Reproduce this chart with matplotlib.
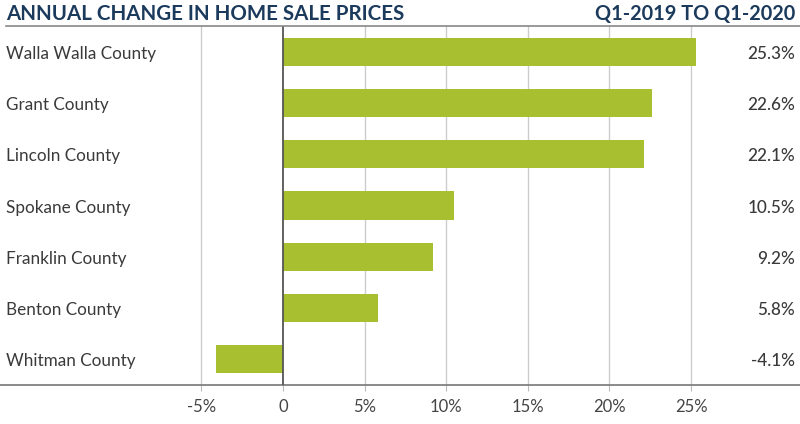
import matplotlib.pyplot as plt

counties = ['Walla Walla County', 'Grant County', 'Lincoln County', 'Spokane County',
            'Franklin County', 'Benton County', 'Whitman County']
changes = [25.3, 22.6, 22.1, 10.5, 9.2, 5.8, -4.1]
ticks = [-5, 0, 5, 10, 15, 20, 25]
tick_labels = ['-5%', '0', '5%', '10%', '15%', '20%', '25%']

plt.rcParams['font.family'] = ['Lato', 'DejaVu Sans']

fig = plt.figure(figsize=(8, 4.24), dpi=100)
ax = fig.add_axes([0, 39 / 424, 1, 359 / 424])

ax.set_xlim(-283 / 16.32, 517 / 16.32)
ax.set_ylim(len(counties) - 0.5, -0.5)

for t in ticks:
    if t == 0:
        ax.axvline(t, color='#555555', lw=1.3, zorder=3)
    else:
        ax.axvline(t, color='#cccccc', lw=1, zorder=0)

ypos = list(range(len(counties)))
ax.barh(ypos, changes, height=0.55, color='#a8c02f', zorder=2)

for y, name, v in zip(ypos, counties, changes):
    ax.text(6 / 800, y + 0.04, name, transform=ax.get_yaxis_transform(), ha='left', va='center',
            fontsize=12.3, color='#3a3a3a')
    ax.text(795 / 800, y + 0.04, f'{v:.1f}%', transform=ax.get_yaxis_transform(), ha='right',
            va='center', fontsize=12.3, color='#3a3a3a', fontweight='medium')

for s in ['top', 'left', 'right']:
    ax.spines[s].set_visible(False)
ax.spines['bottom'].set_color('#777777')
ax.spines['bottom'].set_linewidth(1.2)
ax.set_yticks([])
ax.set_xticks(ticks)
ax.set_xticklabels(tick_labels)
ax.tick_params(axis='x', length=4, color='#bbbbbb', labelsize=12, labelcolor='#444444', pad=6)

fig.add_artist(plt.Line2D([6 / 800, 1], [398 / 424, 398 / 424], color='#888888', lw=1.2))
fig.text(6 / 800, 410 / 424, 'ANNUAL CHANGE IN HOME SALE PRICES', ha='left', va='center',
         fontsize=14.8, fontweight='bold', color='#1b3a5c')
fig.text(795 / 800, 410 / 424, 'Q1-2019 TO Q1-2020', ha='right', va='center',
         fontsize=14.3, fontweight='bold', color='#1b3a5c')

fig.savefig('out.png', dpi=100)
